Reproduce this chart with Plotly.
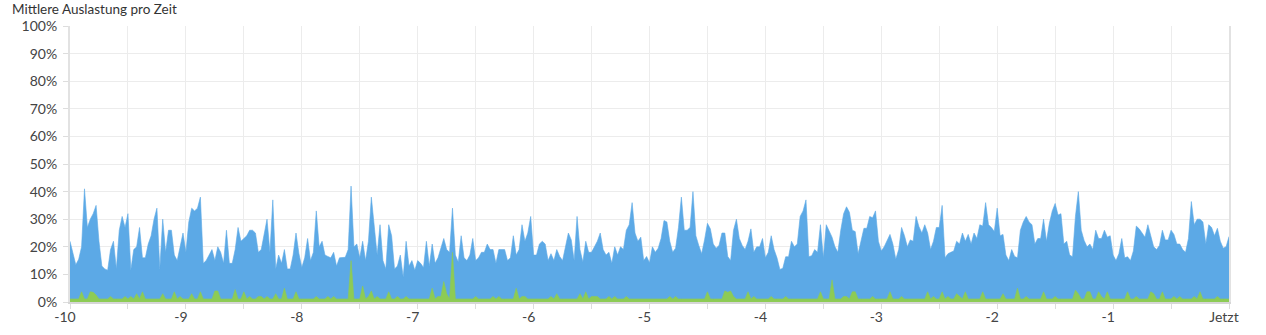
import numpy as np
import plotly.graph_objects as go

# --- data -----------------------------------------------------------------
# time axis: hours relative to now (-10 .. 0), one sample every 1.5 minutes
time_h = np.linspace(-10, 0, 401)

load_total = [
    22, 18, 13.5, 15.5, 20, 41, 27, 30, 32, 35,
    22, 13, 12, 11.5, 19, 22, 12, 26, 31, 27,
    32, 11.6, 19, 20, 27, 16, 16, 21, 24, 30,
    34, 12, 30, 18, 26, 26, 17, 15, 20, 25,
    18, 29, 34, 33, 34, 38, 14, 15, 17, 19,
    15, 20, 18, 14, 26, 14, 14, 19,
    27, 22, 23, 24, 26, 26, 25, 18, 19, 24,
    30, 18, 37, 12, 17, 14, 19, 12, 12, 17,
    25, 17.6, 12.5, 16, 23, 15, 18, 33, 20, 22,
    17, 16.5, 16, 18, 13, 16, 16, 16.2, 19, 42,
    20, 21, 16, 22, 15, 22, 38, 27, 17, 28,
    15, 12, 28, 24, 12, 13,
    17, 9, 22, 13, 15, 11.5, 15, 14, 12.5, 22,
    13, 21, 14, 16, 20, 23, 19, 18, 34, 17,
    14.5, 24, 16, 15, 17, 23, 15, 16, 18, 18,
    21, 19, 19, 14, 19, 19, 19, 15, 16, 24,
    17, 19, 28, 22, 25, 31, 17, 17, 21, 22,
    21, 15, 17.5, 15, 19, 16.5, 15, 20,
    25, 22.5, 15, 31, 19, 14.5, 22, 18, 18, 20,
    22, 25, 19, 17, 18, 14, 20, 17, 20, 19,
    26, 28, 36, 25, 22, 23.5, 15, 16.5, 14.2, 20,
    18, 19.5, 23, 29.5, 29, 22, 18, 19.5, 27, 38,
    26, 26, 27, 40, 24, 20.5, 17.5, 22.5, 28.5, 26.5,
    21, 19.5, 20.5, 25, 25, 16.5, 15,
    26, 30, 23, 20.5, 19, 22, 26.5, 18, 20, 20,
    23, 16, 18, 24, 19, 16, 11.8, 12.2, 16.4, 16.4,
    22, 20, 21, 31, 33, 37, 16.4, 16.8, 19, 18,
    28, 16, 28, 26, 23.5, 20, 18, 26, 32, 34.5,
    32.5, 26, 25.5, 17.5, 22, 26.7, 26.7, 31, 30.5, 33,
    22, 18.5, 20, 22, 24.5, 21, 15.5,
    19, 27, 24, 20, 22.5, 22, 31, 27.3, 25, 28,
    25, 19, 22, 27, 27, 35, 16, 17.5, 18, 18.5,
    22, 21, 25, 22, 24.5, 21, 25, 23, 28, 27.5,
    36, 28, 27, 25.5, 34, 24, 24.5, 17, 15, 19,
    16.5, 16, 26, 29, 31, 29, 28, 21, 23, 23,
    30, 22, 28.5, 33, 35.7, 31.5, 32, 21,
    22, 17, 16.4, 31, 40, 26, 22.3, 20, 21, 19,
    26, 23, 23, 26, 23.5, 24, 17, 15, 17.5, 23,
    16, 16.4, 15, 18.5, 27.5, 26.5, 25, 23.5, 28, 24,
    20, 19, 20.5, 26, 22.5, 22.5, 26, 24.5, 21, 21,
    19, 18, 23, 36.4, 28, 30, 30, 29, 21, 28,
    27, 24, 26.7, 22, 19.5, 20, 23.7,
]

load_green = [
    1.1, 1.1, 1.1, 1.1, 3.7, 1.1, 1.1, 3.7, 3.5, 2.5,
    1.1, 1.1, 1.1, 1.1, 2, 1.1, 1.1, 1.1, 1.1, 2,
    1.1, 2, 1.1, 3, 1.1, 3.7, 1.1, 1.1, 1.1, 1.1,
    1.1, 1.1, 3, 1.1, 1.1, 1.1, 3.7, 1.1, 2, 1.1,
    1.1, 1.1, 3, 1.1, 1.1, 3.7, 1.1, 1.1, 1.1, 1.1,
    4, 4, 1.1, 1.1, 1.1, 1.1, 1.1, 4.5,
    1.1, 1.1, 3.7, 1.1, 2, 1.1, 1.1, 2, 2, 1.1,
    2, 1.1, 1.1, 3, 1.1, 1.1, 5, 1.1, 1.1, 1.1,
    3.7, 1.1, 1.1, 1.1, 1.1, 1.1, 1.1, 2, 1.1, 1.1,
    1.1, 2, 1.1, 2, 1.1, 1.1, 1.1, 1.1, 1.1, 15,
    1.1, 1.1, 1.1, 5.8, 1.1, 2, 4, 1.1, 2, 1.1,
    1.1, 1.1, 3.7, 1.1, 1.1, 2,
    1.1, 1.1, 2, 1.1, 1.1, 1.1, 1.1, 1.1, 1.1, 1.1,
    1.1, 5, 1.1, 2, 2, 7.4, 3, 1.1, 18, 1.1,
    1.1, 1.1, 1.1, 1.1, 1.1, 1.1, 2, 1.1, 1.1, 1.1,
    1.1, 1.1, 2, 1.1, 2, 1.1, 1.1, 1.1, 1.1, 1.1,
    5, 1.1, 2, 2, 1.1, 1.1, 1.1, 1.1, 1.1, 1.1,
    1.1, 1.1, 2, 1.1, 3, 1.1, 1.1, 1.1,
    1.1, 1.1, 1.1, 1.1, 3, 1.1, 3.7, 1.1, 2, 2,
    2, 1.1, 1.1, 1.1, 2, 1.1, 2, 1.1, 1.1, 1.1,
    2, 1.1, 1.1, 1.1, 1.1, 1.1, 1.1, 1.1, 1.1, 1.1,
    1.1, 1.1, 1.1, 1.1, 1.1, 2, 1.1, 2, 1.1, 1.1,
    1.1, 1.1, 1.1, 1.1, 1.1, 1.1, 1.1, 1.1, 3.7, 1.1,
    1.1, 1.1, 1.1, 1.1, 4, 3.5, 4,
    2, 1.1, 1.1, 1.1, 1.1, 3.7, 1.1, 2, 1.1, 1.1,
    1.1, 1.1, 1.1, 2, 1.1, 1.1, 1.1, 1.1, 2, 1.1,
    1.1, 1.1, 1.1, 1.1, 1.1, 1.1, 1.1, 1.1, 1.1, 1.1,
    3.7, 1.1, 1.1, 1.1, 8, 1.1, 1.1, 1.1, 2, 2,
    1.1, 3.7, 3.7, 1.1, 1.1, 1.1, 1.1, 1.1, 2, 1.1,
    1.1, 1.1, 1.1, 1.1, 3.7, 1.1, 1.1,
    1.1, 2, 1.1, 1.1, 1.1, 1.1, 1.1, 1.1, 1.1, 1.1,
    3.7, 1.1, 2, 1.1, 1.1, 3.7, 1.1, 2, 1.1, 1.1,
    3, 2, 1.1, 3.7, 1.1, 1.1, 1.1, 1.1, 1.1, 3.7,
    1.1, 1.1, 1.1, 1.1, 1.1, 1.1, 3, 1.1, 1.1, 1.1,
    1.1, 5, 1.1, 1.1, 2, 1.1, 1.1, 1.1, 1.1, 1.1,
    3.7, 1.1, 1.1, 1.1, 2, 1.1, 1.1, 1.1,
    1.1, 1.1, 1.1, 4.3, 3, 1.1, 1.1, 3.7, 3.7, 1.1,
    1.1, 3.7, 2, 1.1, 3.7, 1.1, 1.1, 1.1, 1.1, 1.1,
    1.1, 3.7, 1.1, 1.1, 2, 1.1, 1.1, 1.1, 1.1, 3.7,
    3, 1.1, 1.1, 3.7, 1.1, 1.1, 1.1, 2, 1.1, 2,
    1.1, 1.1, 1.1, 1.1, 2, 1.1, 3.7, 1.1, 1.1, 1.1,
    1.1, 1.1, 2, 1.1, 1.1, 1.1, 1.1,
]

x_tick_vals = [-10, -9, -8, -7, -6, -5, -4, -3, -2, -1, 0]
x_tick_text = ["-10", "-9", "-8", "-7", "-6", "-5", "-4", "-3", "-2", "-1", "Jetzt"]
title_text = "Mittlere Auslastung pro Zeit"

assert len(load_total) == len(time_h) == len(load_green)

# --- figure ---------------------------------------------------------------
BLUE = "#5ca9e6"
GREEN = "#8dcb55"
FONT = "Lato"

fig = go.Figure()
fig.add_trace(go.Scatter(
    x=time_h, y=load_total, mode="lines", fill="tozeroy",
    line=dict(color=BLUE, width=0.6), fillcolor=BLUE, hoverinfo="skip",
))
fig.add_trace(go.Scatter(
    x=time_h, y=load_green, mode="lines", fill="tozeroy",
    line=dict(color=GREEN, width=0.6), fillcolor=GREEN, hoverinfo="skip",
))

fig.update_layout(
    width=1266, height=335,
    margin=dict(l=70, r=37, t=26, b=33, autoexpand=False),
    paper_bgcolor="white", plot_bgcolor="white",
    showlegend=False,
    font=dict(family=FONT, size=14, color="#444444"),
    annotations=[dict(
        text=title_text, xref="paper", yref="paper",
        x=(10 - 70) / 1159, y=1 + (26 - 9) / 276,
        xanchor="left", yanchor="middle", showarrow=False,
        font=dict(family=FONT, size=13.5, color="#333333"),
    )],
)

fig.update_xaxes(
    range=[-10, 0], tickmode="array", tickvals=x_tick_vals, ticktext=x_tick_text,
    showgrid=True, gridcolor="#ececec", gridwidth=1,
    ticks="outside", ticklen=5, tickcolor="#dddddd",
    showline=True, linecolor="#d6d6d6", linewidth=2,
    ticklabelshift=-5, ticklabelstandoff=-4, automargin=False,
    minor=dict(tickmode="linear", tick0=-10, dtick=0.5, showgrid=True,
               gridcolor="#ececec", ticks="outside", ticklen=5, tickcolor="#dddddd"),
    zeroline=False,
)
fig.update_yaxes(
    range=[0, 100], dtick=10, ticksuffix="%",
    showgrid=True, gridcolor="#ececec", gridwidth=1,
    ticks="outside", ticklen=5, tickcolor="#dddddd",
    showline=True, linecolor="#e2e2e2", linewidth=2, mirror=True,
    ticklabelstandoff=3, automargin=False,
    zeroline=False,
)

fig.write_html("out.html")
